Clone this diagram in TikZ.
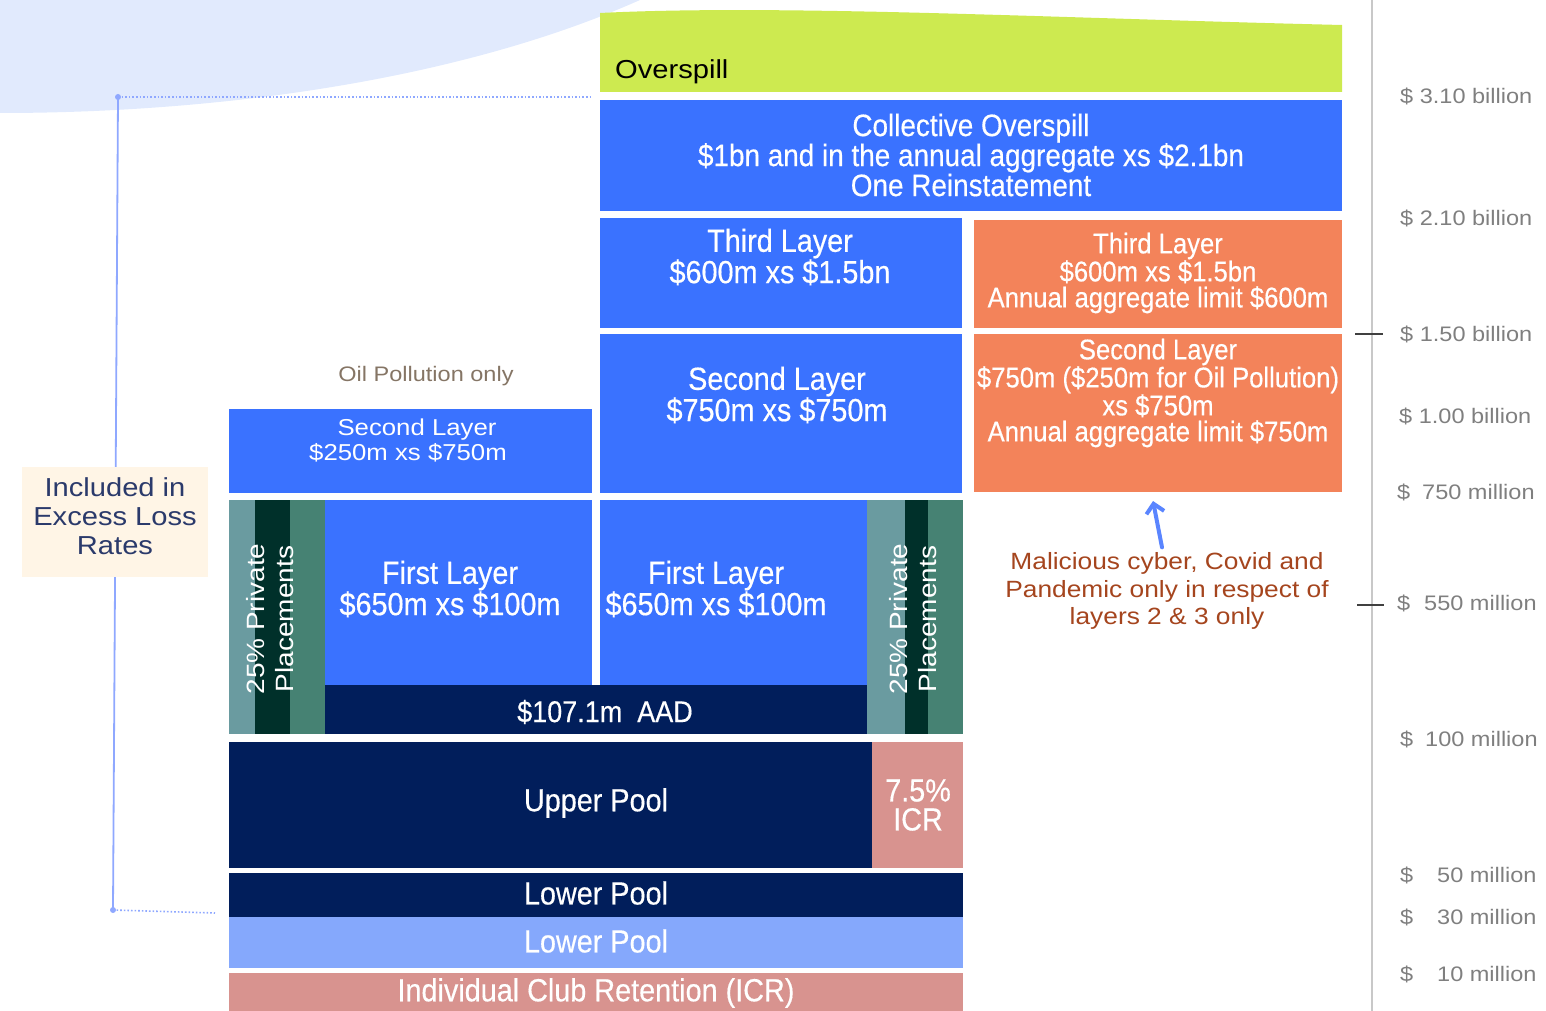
\documentclass[tikz,border=0pt]{standalone}
\usepackage{fontspec}
\setmainfont{Liberation Sans}
\newfontfamily\condfont[FakeStretch=0.9,FakeBold=0.4]{Liberation Sans}
\newfontfamily\widefont[FakeStretch=1.12]{Liberation Sans}
\usetikzlibrary{arrows.meta,positioning}
\newcommand{\tightlines}{\setlength{\lineskiplimit}{-40pt}\setlength{\lineskip}{0pt}}

\definecolor{skyback}{HTML}{E1EAFD}
\definecolor{lime}{HTML}{CDEA50}
\definecolor{layerblue}{HTML}{3A72FF}
\definecolor{layerorange}{HTML}{F3835A}
\definecolor{navy}{HTML}{011E5B}
\definecolor{poolblue}{HTML}{85A8FC}
\definecolor{icrpink}{HTML}{D8938F}
\definecolor{ppgrey}{HTML}{6A9BA0}
\definecolor{ppdark}{HTML}{00302A}
\definecolor{ppteal}{HTML}{468273}
\definecolor{cream}{HTML}{FFF5E6}
\definecolor{inktext}{HTML}{2B3A6B}
\definecolor{bracket}{HTML}{8FA8FF}
\definecolor{axisgrey}{HTML}{C8C8C8}
\definecolor{ticklabel}{HTML}{7F7F7F}
\definecolor{notebrown}{HTML}{A5451E}
\definecolor{oilgrey}{HTML}{857565}
\definecolor{arrowblue}{HTML}{5A85FF}

\tikzset{
  box/.style={anchor=north west, inner sep=0pt, outer sep=0pt},
  lbl/.style={text=white, align=center, inner sep=0pt, font=\condfont\fontsize{32}{29}\selectfont},
  lblsm/.style={lbl, font=\condfont\fontsize{28.5}{26}\selectfont},
  ticklbl/.style={anchor=west, inner sep=0pt, text=ticklabel, font=\widefont\fontsize{21}{22}\selectfont},
}

\begin{document}
\begin{tikzpicture}[x=1pt,y=-1pt]
\useasboundingbox (0,0) rectangle (1546,1011);

% background sweep and overspill
\fill[skyback] (0,0) -- (640,0) .. controls (460,80) and (220,113) .. (0,113) -- cycle;
\fill[lime] (600,92) -- (600,13) .. controls (780,4) and (1050,18) .. (1342,25) -- (1342,92) -- cycle;
\node[anchor=base west, inner sep=0pt, font=\widefont\fontsize{26}{28}\selectfont] (over) at (615,79) {Overspill};

% upper layers
\node[box, fill=layerblue, minimum width=742, minimum height=111] (coll) at (600,100) {};
\node[lbl, font=\condfont\fontsize{31}{30}\selectfont\tightlines] (collT) at (971,155) {Collective Overspill\\\$1bn and in the annual aggregate xs \$2.1bn\\One Reinstatement};

\node[box, fill=layerblue, minimum width=362, minimum height=110] (thirdB) at (600,218) {};
\node[lbl] (thirdBT) at (780,257) {Third Layer\\\$600m xs \$1.5bn};
\node[box, fill=layerorange, minimum width=368, minimum height=108] (thirdO) at (974,220) {};
\node[lblsm] (thirdOT) at (1158,273) {Third Layer\\\$600m xs \$1.5bn\\Annual aggregate limit \$600m};

\node[box, fill=layerblue, minimum width=362, minimum height=159] (secB) at (600,334) {};
\node[lbl] (secBT) at (777,395) {Second Layer\\\$750m xs \$750m};
\node[box, fill=layerorange, minimum width=368, minimum height=158] (secO) at (974,334) {};
\node[lblsm] (secOT) at (1158,393) {Second Layer\\\$750m (\$250m for Oil Pollution)\\xs \$750m\\Annual aggregate limit \$750m};

\node[text=oilgrey, inner sep=0pt, font=\widefont\fontsize{21}{22}\selectfont] (oil) at (426,376) {Oil Pollution only};
\node[box, fill=layerblue, minimum width=363, minimum height=84] (secL) at (229,409) {};
\node[lbl, font=\widefont\fontsize{23}{25}\selectfont] (secLT) at (408,440) {\hspace*{18pt}Second Layer\\\$250m xs \$750m};

% first layer and private placements
\fill[ppgrey] (229,500) rectangle (255,734);
\fill[ppdark] (255,500) rectangle (290,734);
\fill[ppteal] (290,500) rectangle (325,734);
\node[rotate=90, text=white, align=center, inner sep=0pt, font=\widefont\fontsize{25}{29}\selectfont] (ppL) at (270,619) {25\% Private\\Placements};
\fill[ppgrey] (867,500) rectangle (905,734);
\fill[ppdark] (905,500) rectangle (928,734);
\fill[ppteal] (928,500) rectangle (963,734);
\node[rotate=90, text=white, align=center, inner sep=0pt, font=\widefont\fontsize{25}{29}\selectfont] (ppR) at (913,619) {25\% Private\\Placements};

\node[box, fill=layerblue, minimum width=267, minimum height=185] (firstL) at (325,500) {};
\node[lbl] (firstLT) at (450,589) {First Layer\\\$650m xs \$100m};
\node[box, fill=layerblue, minimum width=267, minimum height=185] (firstM) at (600,500) {};
\node[lbl] (firstMT) at (716,589) {First Layer\\\$650m xs \$100m};
\node[box, fill=navy, minimum width=542, minimum height=49] (aad) at (325,685) {};
\node[lbl, font=\condfont\fontsize{30}{28}\selectfont] (aadT) at (605,712) {\$107.1m\ \ AAD};

% pools and retention
\node[box, fill=navy, minimum width=643, minimum height=126] (upper) at (229,742) {};
\node[lbl] (upperT) at (596,803) {Upper Pool};
\node[box, fill=icrpink, minimum width=91, minimum height=126] (icr) at (872,742) {};
\node[lbl] (icrT) at (918,805) {7.5\%\\ICR};
\node[box, fill=navy, minimum width=734, minimum height=44] (lowerA) at (229,873) {};
\node[lbl] (lowerAT) at (596,893) {Lower Pool};
\node[box, fill=poolblue, minimum width=734, minimum height=51] (lowerB) at (229,917) {};
\node[lbl] (lowerBT) at (596,941) {Lower Pool};
\node[box, fill=icrpink, minimum width=734, minimum height=38] (club) at (229,973) {};
\node[lbl] (clubT) at (596,993) {Individual Club Retention (ICR)};

% excess loss bracket
\coordinate (brTop) at (118,97);
\coordinate (brBot) at (113,910);
\draw[bracket, line width=1.8pt] (brTop) -- (brBot);
\draw[bracket, line width=1.6pt, dotted] (brTop) -- (592,97);
\draw[bracket, line width=1.6pt, dotted] (brBot) -- (215,913);
\fill[bracket] (brTop) circle (3);
\fill[bracket] (brBot) circle (3);
\node[box, fill=cream, minimum width=186, minimum height=110] (xl) at (22,467) {};
\node[text=inktext, align=center, inner sep=0pt, font=\widefont\fontsize{26}{29}\selectfont] (xlT) at (115,516) {Included in\\Excess Loss\\Rates};

% cyber note
\node[text=notebrown, align=center, inner sep=0pt, font=\widefont\fontsize{23.5}{27.5}\selectfont] (note) at (1167,591) {Malicious cyber, Covid and\\Pandemic only in respect of\\layers 2 \& 3 only};
\draw[arrowblue, line width=4pt, line cap=round, -{Straight Barb[length=9pt,width=18pt]}] ([xshift=-5pt,yshift=5pt]note.north) -- ([xshift=-5pt,yshift=-9pt]secO.south);

% value scale
\coordinate (axTop) at (1372,0);
\coordinate (axBot) at (1372,1011);
\draw[axisgrey, line width=2pt] (axTop) -- (axBot);
\draw[black!75, line width=1.6pt] (1355,334) -- (1383,334);
\draw[black!75, line width=1.6pt] (1357,605) -- (1384,605);
\node[ticklbl] (d1) at (1400,96) {\$ 3.10 billion};
\node[ticklbl] (d2) at (1400,218) {\$ 2.10 billion};
\node[ticklbl] (d3) at (1400,334) {\$ 1.50 billion};
\node[ticklbl] (d4) at (1399,416) {\$ 1.00 billion};
\node[ticklbl] (d5) at (1397,492) {\$};
\node[ticklbl] (v5) at (1422,492) {750 million};
\node[ticklbl] (d6) at (1397,603) {\$};
\node[ticklbl] (v6) at (1424,603) {550 million};
\node[ticklbl] (d7) at (1400,739) {\$};
\node[ticklbl] (v7) at (1425,739) {100 million};
\node[ticklbl] (d8) at (1400,875) {\$};
\node[ticklbl] (v8) at (1437,875) {50 million};
\node[ticklbl] (d9) at (1400,917) {\$};
\node[ticklbl] (v9) at (1437,917) {30 million};
\node[ticklbl] (d10) at (1400,974) {\$};
\node[ticklbl] (v10) at (1437,974) {10 million};
\end{tikzpicture}
\end{document}
